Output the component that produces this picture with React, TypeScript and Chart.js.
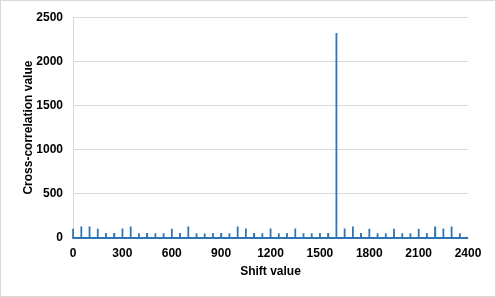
import React, { useEffect, useRef } from "react";
import { Chart, registerables } from "chart.js";

Chart.register(...registerables);

const spikeShifts = [
  0, 50, 100, 150, 200, 250, 300, 350, 400, 450, 500, 550, 600, 650, 700, 750,
  800, 850, 900, 950, 1000, 1050, 1100, 1150, 1200, 1250, 1300, 1350, 1400, 1450, 1500, 1550,
  1600, 1650, 1700, 1750, 1800, 1850, 1900, 1950, 2000, 2050, 2100, 2150, 2200, 2250, 2300, 2350,
];
const spikeValues = [
  105, 130, 130, 105, 55, 55, 108, 130, 55, 55, 55, 55, 105, 55, 130, 55,
  50, 55, 55, 55, 130, 108, 55, 55, 108, 55, 55, 108, 55, 55, 55, 55,
  2320, 108, 130, 55, 105, 55, 55, 105, 55, 55, 105, 55, 130, 108, 130, 55,
];
const baselineValue = 0;
const shiftMin = 0;
const shiftMax = 2400;
const shiftStep = 300;
const valueMax = 2500;
const valueStep = 500;

const xTitle = "Shift value";
const yTitle = "Cross-correlation value";

export default function App() {
  const ref = useRef<HTMLCanvasElement | null>(null);

  useEffect(() => {
    document.body.style.margin = "0";
    const canvas = ref.current;
    if (!canvas) return;
    const points: { x: number; y: number }[] = [];
    spikeShifts.forEach((s, i) => {
      points.push({ x: Math.max(s - 1, shiftMin), y: baselineValue });
      points.push({ x: s, y: spikeValues[i] });
      points.push({ x: s + 1, y: baselineValue });
    });
    points.push({ x: shiftMax, y: baselineValue });

    const font = { family: "'Liberation Sans', Arial, sans-serif", size: 12, weight: "bold" as const };
    const titleFont = { family: "'Liberation Sans', Arial, sans-serif", size: 12, weight: "bold" as const };
    const plain = (v: any) => String(v);

    const chart = new Chart(canvas, {
      type: "line",
      data: {
        datasets: [
          {
            data: points,
            borderColor: "#2e75b6",
            borderWidth: 1.8,
            pointRadius: 0,
            tension: 0,
            clip: 4,
          },
        ],
      },
      options: {
        animation: false,
        responsive: false,
        maintainAspectRatio: false,
        events: [],
        layout: { padding: { left: 0, right: 28, top: 15, bottom: 0 } },
        plugins: { legend: { display: false }, tooltip: { enabled: false } },
        scales: {
          x: {
            type: "linear",
            min: shiftMin,
            max: shiftMax,
            ticks: { stepSize: shiftStep, color: "#000", font, padding: 8, maxRotation: 0, autoSkip: false, callback: plain },
            grid: { display: false, drawTicks: false },
            border: { display: true, color: "#d9d9d9" },
            title: { display: true, text: xTitle, color: "#000", font: titleFont, padding: { top: 18, bottom: 18 } },
            afterFit: (scale: any) => {
              scale.height = 59;
            },
          },
          y: {
            min: 0,
            max: valueMax,
            ticks: { stepSize: valueStep, color: "#000", font, padding: 10, callback: plain },
            grid: { color: "#d9d9d9", drawTicks: false },
            border: { display: true, color: "#d9d9d9" },
            title: { display: true, text: yTitle, color: "#000", font: titleFont, padding: { top: 21, bottom: 21 } },
            afterFit: (scale: any) => {
              scale.width = 73;
            },
          },
        },
      },
    });
    return () => chart.destroy();
  }, []);

  return (
    <div style={{ position: "relative", width: 496, height: 297, background: "#fff" }}>
      <canvas ref={ref} width={496} height={297} style={{ position: "absolute", left: 0, top: 0 }} />
      <div
        style={{
          position: "absolute",
          left: 0,
          top: 0,
          width: 496,
          height: 297,
          boxSizing: "border-box",
          border: "1px solid #d9d9d9",
          pointerEvents: "none",
        }}
      />
    </div>
  );
}
